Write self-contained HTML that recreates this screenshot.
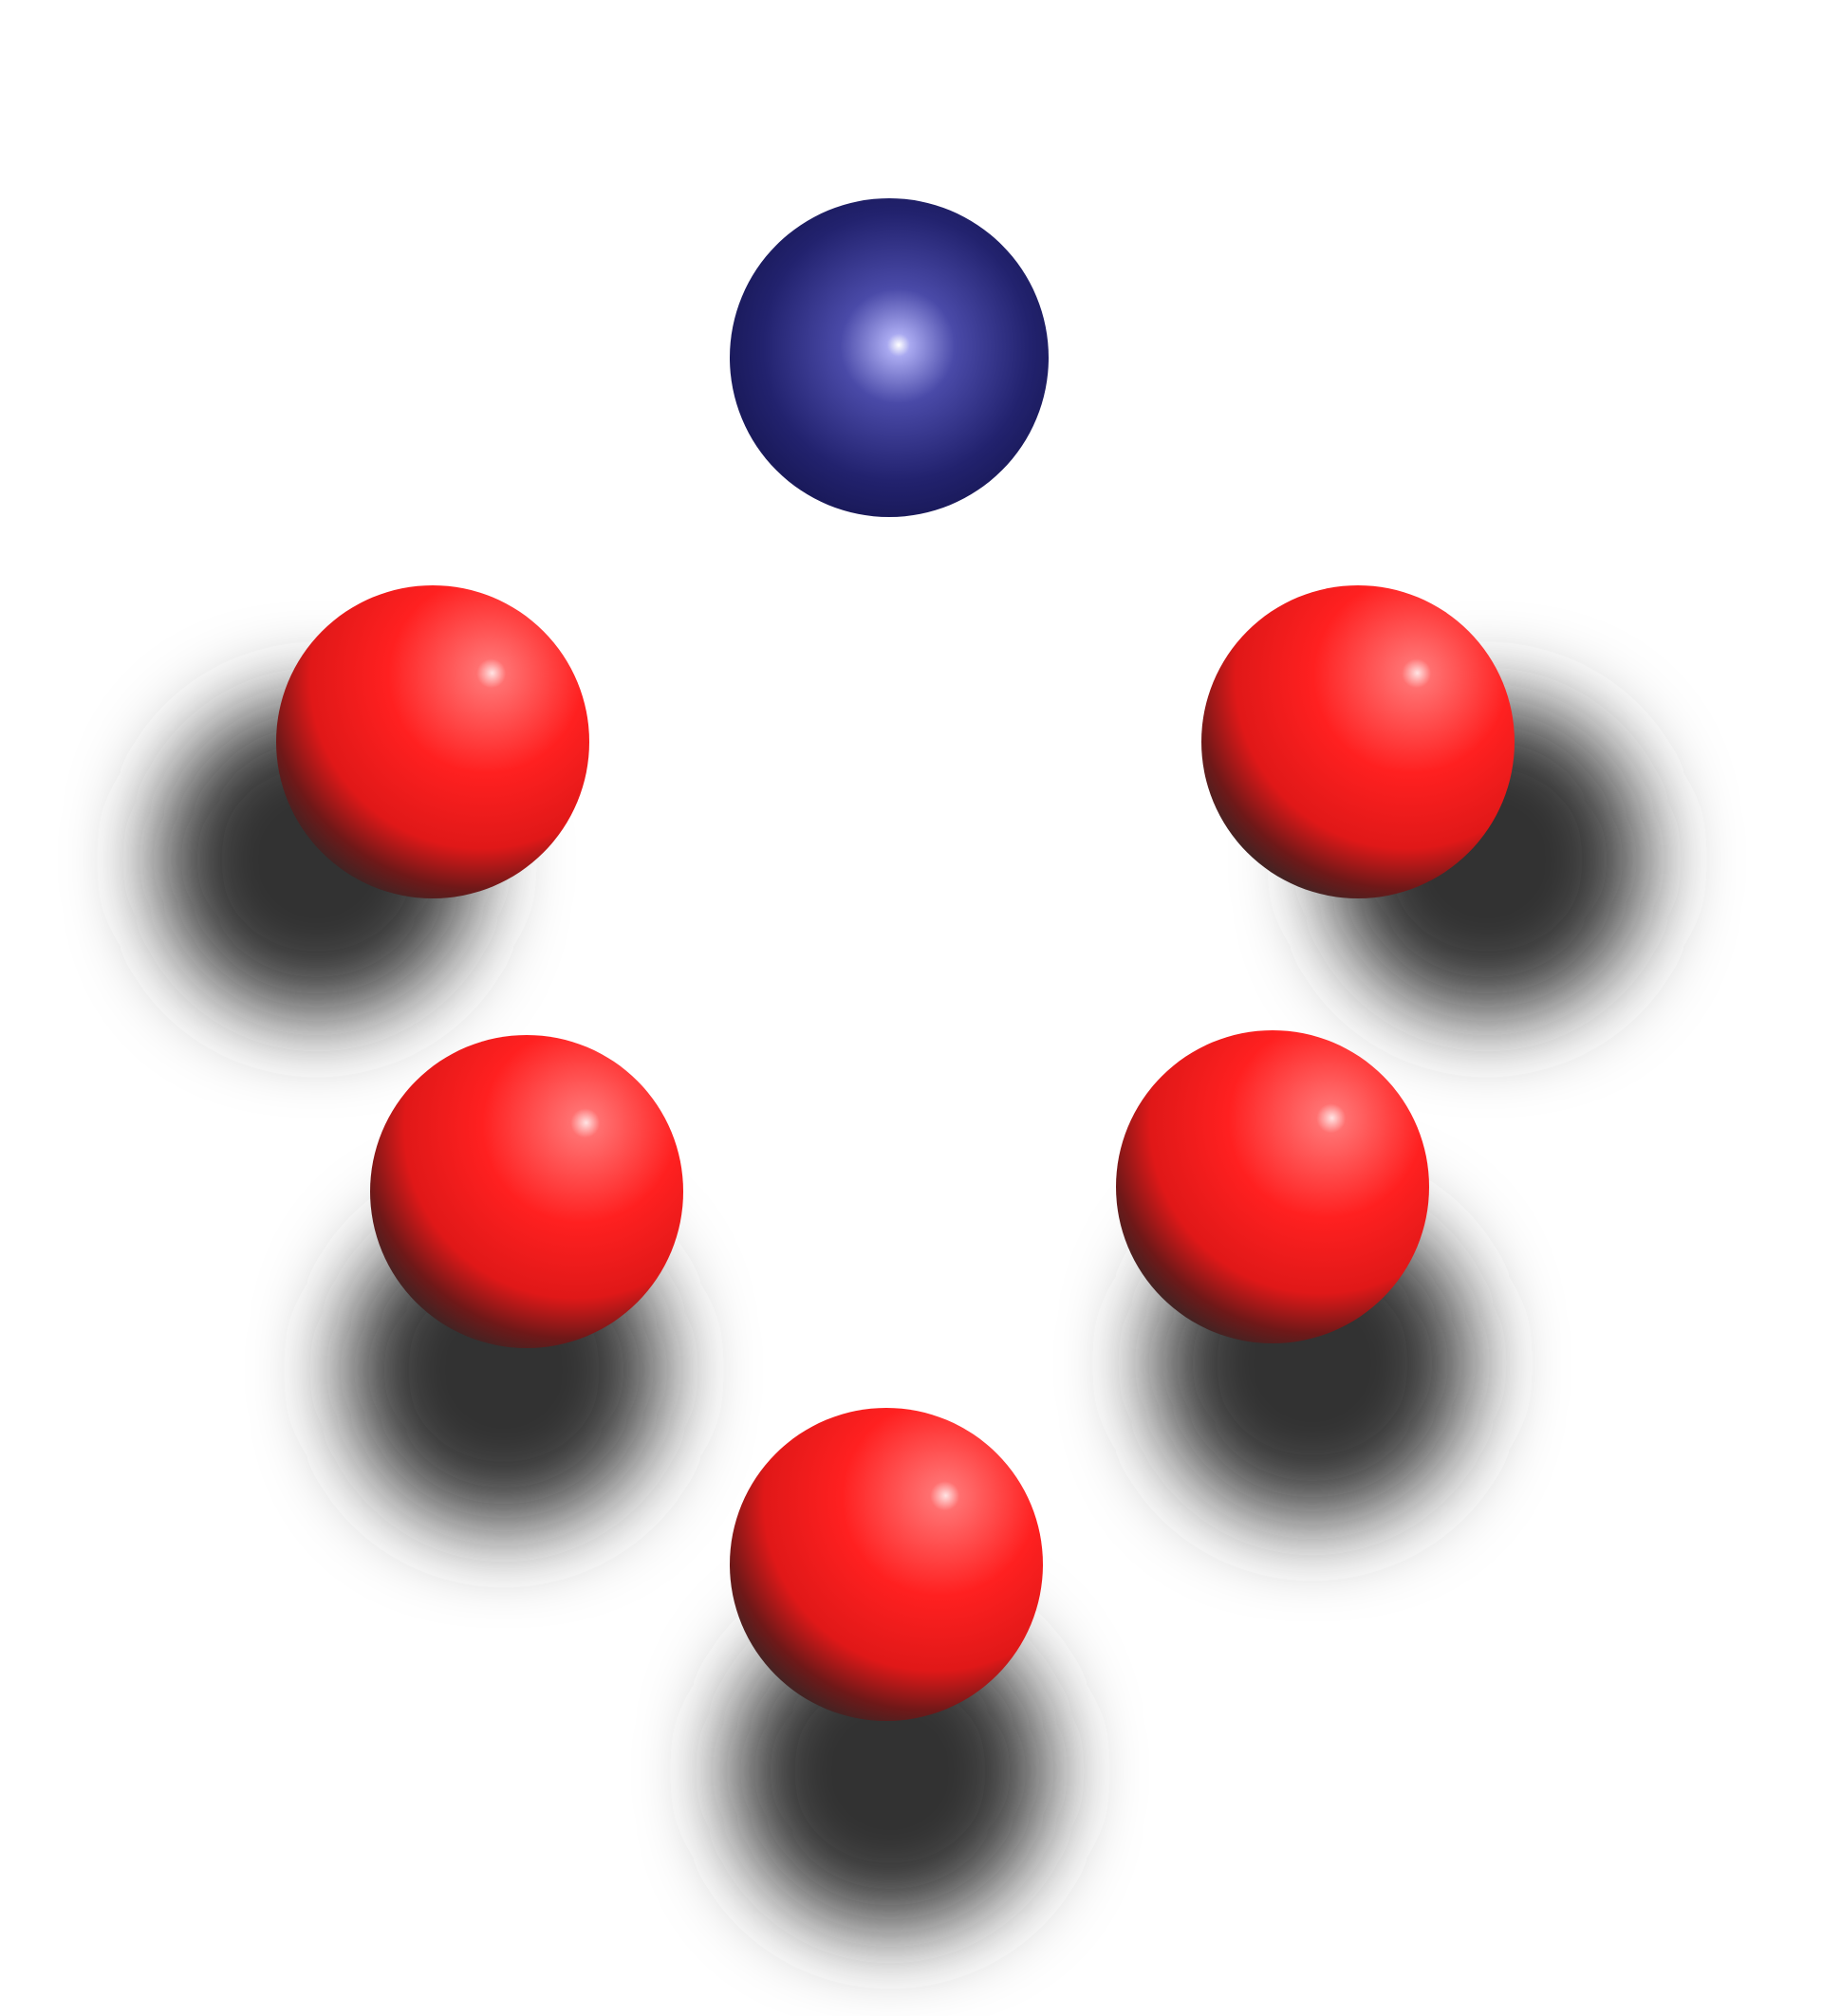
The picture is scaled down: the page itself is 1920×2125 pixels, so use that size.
<!DOCTYPE html>
<html><head><meta charset="utf-8"><style>
html,body{margin:0;padding:0;background:#fff;width:1920px;height:2125px;overflow:hidden}
svg{display:block}
</style></head><body>
<svg id="scene" width="1920" height="2125" viewBox="0 0 1920 2125" xmlns="http://www.w3.org/2000/svg">
<defs>
<filter id="blur" x="-60%" y="-60%" width="220%" height="220%"><feGaussianBlur stdDeviation="45"/></filter>
<radialGradient id="red" cx="0.64" cy="0.3" r="0.78" fx="0.69" fy="0.28">
<stop offset="0" stop-color="#ffe4e4"/><stop offset="0.06" stop-color="#ff7070"/>
<stop offset="0.4" stop-color="#ff2020"/><stop offset="0.7" stop-color="#e01818"/>
<stop offset="0.86" stop-color="#701818"/><stop offset="1" stop-color="#2e2828"/></radialGradient>
<radialGradient id="blue" cx="0.52" cy="0.47" r="0.6" fx="0.53" fy="0.46">
<stop offset="0" stop-color="#ffffff"/><stop offset="0.06" stop-color="#a9a9f0"/>
<stop offset="0.3" stop-color="#4a4aa8"/><stop offset="0.7" stop-color="#22226e"/>
<stop offset="1" stop-color="#15154f"/></radialGradient>
</defs>
<g id="shadows"></g><g id="balls"></g>
</svg>
<script>
const ballX=[937,456,1431,555,1341,934];
const ballY=[377,782,782,1256,1251,1649];
const ballR=[168,165,165,165,165,165];
const ballColor=['blue','red','red','red','red','red'];
const shadowX=[null,334,1567,531,1383,938];
const shadowY=[null,906,906,1444,1437,1867];
const NS='http://www.w3.org/2000/svg';
const sh=document.getElementById('shadows'),bg=document.getElementById('balls');
for(let i=0;i<ballX.length;i++){
  if(shadowX[i]!==null){
    const s=document.createElementNS(NS,'circle');
    s.setAttribute('cx',shadowX[i]);s.setAttribute('cy',shadowY[i]);s.setAttribute('r',ballR[i]*1.02);
    s.setAttribute('fill','#333');s.setAttribute('filter','url(#blur)');
    
    
    sh.appendChild(s);
  }
  const c=document.createElementNS(NS,'circle');
  c.setAttribute('cx',ballX[i]);c.setAttribute('cy',ballY[i]);c.setAttribute('r',ballR[i]);
  c.setAttribute('fill','url(#'+ballColor[i]+')');
  
  
  bg.appendChild(c);
}
</script>
</body></html>
